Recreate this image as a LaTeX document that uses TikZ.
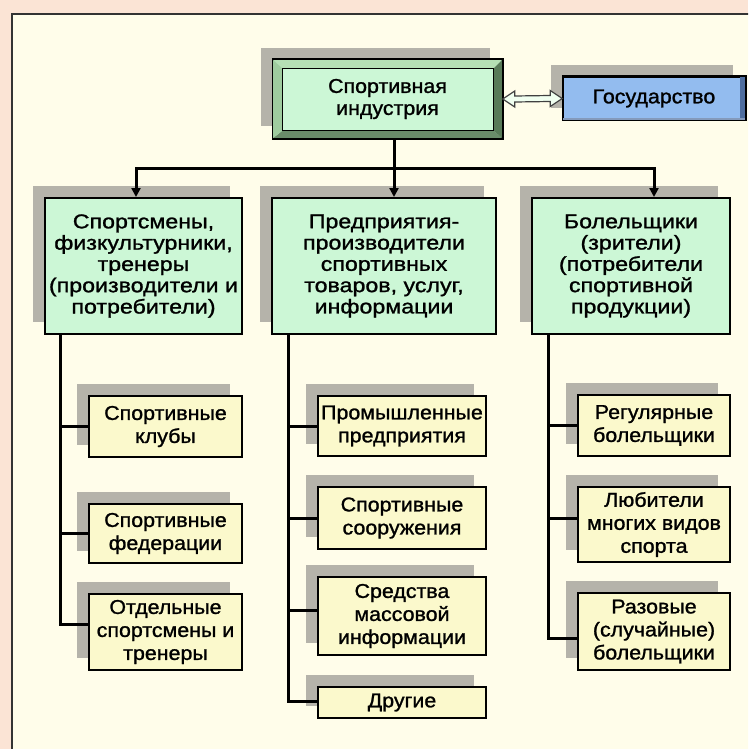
\documentclass[tikz,border=0pt]{standalone}
\usepackage{fontspec}
\setmainfont{Liberation Sans}
\newfontfamily\fa{Liberation Sans}[FakeStretch=1.16,FakeBold=1.2]
\newfontfamily\fb{Liberation Sans}[FakeStretch=1.07,FakeBold=1.2]
\usetikzlibrary{shadows,arrows.meta}
\definecolor{peach}{HTML}{FBE4D5}
\definecolor{cream}{HTML}{FFFDEA}
\definecolor{shgray}{HTML}{B5B3AA}
\definecolor{lgreen}{HTML}{CCF7D6}
\definecolor{lyellow}{HTML}{FBF9CC}
\definecolor{lblue}{HTML}{93BCEF}
\definecolor{bevtop}{HTML}{B5E0B5}
\definecolor{bevleft}{HTML}{9FCC9F}
\definecolor{bevbot}{HTML}{6A8C6A}
\definecolor{bevright}{HTML}{587A58}
\definecolor{dblue}{HTML}{4F6E9E}
\begin{document}
\begin{tikzpicture}[x=1pt,y=-1pt,
  shad/.style={drop shadow={shadow xshift=-12pt,shadow yshift=12pt,fill=shgray,opacity=1}},
  lvlone/.style={draw=black,line width=2pt,fill=lgreen,shad,align=center,inner sep=0pt,
    font=\fa\fontsize{20pt}{21.3pt}\selectfont},
  leaf/.style={draw=black,line width=2pt,fill=lyellow,shad,align=center,inner sep=0pt,
    font=\fb\fontsize{20pt}{23pt}\selectfont},
  conn/.style={line width=3pt,draw=black},
  arr/.style={conn,-{Triangle[length=9pt,width=9pt]}},
]
\useasboundingbox (0,0) rectangle (748,749);
\clip (0,0) rectangle (748,749);
\fill[peach] (0,0) rectangle (748,749);
\draw[line width=2.2pt,draw=black!80,fill=cream] (12,14) rectangle (780,780);

% top box
\node[draw=black,line width=1.5pt,fill=lgreen,shad,minimum width=229pt,minimum height=78pt,
  align=center,inner sep=0pt,font=\fb\fontsize{20pt}{22pt}\selectfont] (T) at (387.5,99) {Спортивная\\индустрия};
\fill[bevtop] (T.north west) -- (T.north east) -- ([shift={(-9,9)}]T.north east) -- ([shift={(10,9)}]T.north west) -- cycle;
\fill[bevbot] (T.south west) -- (T.south east) -- ([shift={(-9,-8)}]T.south east) -- ([shift={(10,-8)}]T.south west) -- cycle;
\fill[bevleft] (T.north west) -- ([shift={(10,9)}]T.north west) -- ([shift={(10,-8)}]T.south west) -- (T.south west) -- cycle;
\fill[bevright] (T.north east) -- ([shift={(-9,9)}]T.north east) -- ([shift={(-9,-8)}]T.south east) -- (T.south east) -- cycle;
\draw[line width=1.2pt] ([shift={(10,9)}]T.north west) rectangle ([shift={(-9,-8)}]T.south east);
\draw[line width=1.5pt] (T.north west) rectangle (T.south east);

% state box
\node[draw=black,line width=1.5pt,fill=lblue,shad,minimum width=182pt,minimum height=43pt,
  inner sep=0pt,font=\fb\fontsize{20pt}{22pt}\selectfont] (G) at (654,98.5) {Государство};
\fill[dblue] ([xshift=-6pt]G.north east) rectangle (G.south east);
\fill[dblue!70] ([yshift=3pt]G.south west) rectangle (G.south east);
\draw[line width=1.5pt] (G.north west) rectangle (G.south east);

% double arrow
\draw[fill=green!6!white,draw=black!75,line width=1.2pt,line join=miter]
  (T.east) -- ([shift={(12,-8)}]T.east) -- ([shift={(12,-3)}]T.east) -- ([shift={(-12,-3)}]G.west)
  -- ([shift={(-12,-8)}]G.west) -- (G.west) -- ([shift={(-12,8)}]G.west) -- ([shift={(-12,3)}]G.west)
  -- ([shift={(12,3)}]T.east) -- ([shift={(12,8)}]T.east) -- cycle;

% level one
\node[lvlone,minimum width=197pt,minimum height=136pt] (L1) at (143.5,266)
  {Спортсмены,\\физкультурники,\\тренеры\\(производители и\\потребители)};
\node[lvlone,minimum width=224pt,minimum height=136pt] (M1) at (384,266)
  {Предприятия-\\производители\\спортивных\\товаров, услуг,\\информации};
\node[lvlone,minimum width=198pt,minimum height=136pt] (R1) at (631,266)
  {Болельщики\\(зрители)\\(потребители\\спортивной\\продукции)};

% leaves
\node[leaf,minimum width=153pt,minimum height=61pt] (La) at (165.5,426.5) {Спортивные\\клубы};
\node[leaf,minimum width=153pt,minimum height=59pt] (Lb) at (165.5,533.5) {Спортивные\\федерации};
\node[leaf,minimum width=153pt,minimum height=76pt] (Lc) at (165.5,632) {Отдельные\\спортсмены и\\тренеры};

\node[leaf,minimum width=168pt,minimum height=60pt] (Ma) at (402,426) {Промышленные\\предприятия};
\node[leaf,minimum width=168pt,minimum height=62pt] (Mb) at (402,518) {Спортивные\\сооружения};
\node[leaf,minimum width=168pt,minimum height=78pt] (Mc) at (402,616) {Средства\\массовой\\информации};
\node[leaf,minimum width=168pt,minimum height=31pt] (Md) at (402,702.5) {Другие};

\node[leaf,minimum width=152pt,minimum height=61pt] (Ra) at (654,425.5) {Регулярные\\болельщики};
\node[leaf,minimum width=152pt,minimum height=75pt] (Rb) at (654,524.5) {Любители\\многих видов\\спорта};
\node[leaf,minimum width=152pt,minimum height=77pt] (Rc) at (654,631.5) {Разовые\\(случайные)\\болельщики};

% top connectors
\coordinate (bl) at (136,168);
\coordinate (br) at (654,168);
\coordinate (mx) at (394,0);
\draw[arr] (br) -- (bl) -- (bl |- L1.north);
\draw[arr] (bl) -- (br) -- (br |- R1.north);
\draw[arr] (mx |- T.south) -- (mx |- M1.north);

% tie points
\coordinate (lct) at ([yshift=8pt]Lc.west);
\coordinate (mdt) at ([yshift=1.5pt]Md.west);
\coordinate (mct) at ([yshift=6pt]Mc.west);
\coordinate (rct) at ([yshift=-6.5pt]Rc.west);
\coordinate (rbt) at ([yshift=6.5pt]Rb.west);

% column connectors
\coordinate (lx) at (60,0);
\coordinate (mcx) at (288,0);
\coordinate (rx) at (548,0);
\draw[conn] (lx |- L1.south) |- (lct);
\draw[conn] (lx |- La.west) -- (La.west);
\draw[conn] (lx |- Lb.west) -- (Lb.west);

\draw[conn] (mcx |- M1.south) |- (mdt);
\draw[conn] (mcx |- Ma.west) -- (Ma.west);
\draw[conn] (mcx |- Mb.west) -- (Mb.west);
\draw[conn] (mcx |- mct) -- (mct);

\draw[conn] (rx |- R1.south) |- (rct);
\draw[conn] (rx |- Ra.west) -- (Ra.west);
\draw[conn] (rx |- rbt) -- (rbt);
\end{tikzpicture}
\end{document}
